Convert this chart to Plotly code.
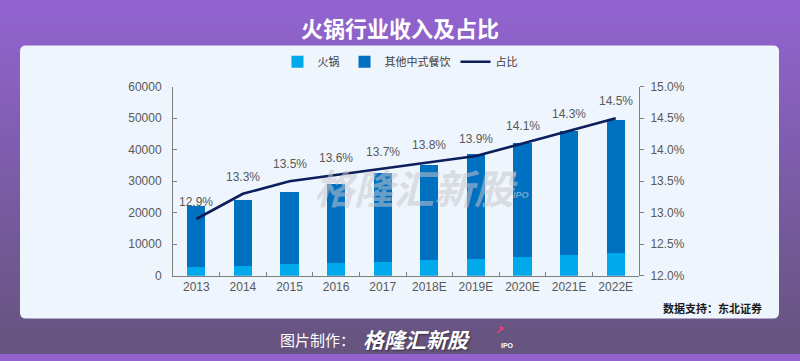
import plotly.graph_objects as go

# ---- data ----
years = ["2013", "2014", "2015", "2016", "2017", "2018E", "2019E", "2020E", "2021E", "2022E"]
hotpot = [2840, 3200, 3600, 4000, 4450, 4860, 5370, 5940, 6560, 7170]
other = [19160, 20900, 23000, 25100, 28050, 30340, 33230, 36160, 39340, 42230]
share = [12.9, 13.3, 13.5, 13.6, 13.7, 13.8, 13.9, 14.1, 14.3, 14.5]
share_labels = ["12.9%", "13.3%", "13.5%", "13.6%", "13.7%", "13.8%", "13.9%", "14.1%", "14.3%", "14.5%"]

W, H = 800, 361
def px(x):
    return x / W
def py(y):
    return 1 - y / H

FONT = "Noto Sans CJK SC, Liberation Sans, sans-serif"
TICKFONT = dict(family="Liberation Sans, Arial, sans-serif", size=12, color="#595959")

fig = go.Figure()
fig.add_trace(go.Bar(x=years, y=hotpot, name="火锅", marker_color="#00A9EC",
                     marker_line_width=0, yaxis="y"))
fig.add_trace(go.Bar(x=years, y=other, name="其他中式餐饮", marker_color="#0070C0",
                     marker_line_width=0, yaxis="y"))
fig.add_trace(go.Scatter(x=years, y=share, name="占比", mode="lines",
                         line=dict(color="#0C1E5B", width=2.6), yaxis="y2"))

shapes = []
# background gradient
top = (146, 99, 207)
bot = (101, 84, 125)
N = 60
for i in range(N):
    t = i / (N - 1)
    c = tuple(int(round(top[k] + (bot[k] - top[k]) * t)) for k in range(3))
    y0 = i * H / N
    y1 = (i + 1) * H / N + 0.5
    shapes.append(dict(type="rect", xref="paper", yref="paper", x0=0, x1=1,
                       y0=py(min(y1, H)), y1=py(y0), fillcolor="rgb(%d,%d,%d)" % c,
                       line_width=0, layer="below"))

# rounded white panel
L, R, T, B, r = 20, 779, 40, 324, 6
def P(x, y):
    return "%f,%f" % (px(x), py(y))
path = ("M " + P(L + r, T) + " L " + P(R - r, T) + " Q " + P(R, T) + " " + P(R, T + r) +
        " L " + P(R, B - r) + " Q " + P(R, B) + " " + P(R - r, B) +
        " L " + P(L + r, B) + " Q " + P(L, B) + " " + P(L, B - r) +
        " L " + P(L, T + r) + " Q " + P(L, T) + " " + P(L + r, T) + " Z")
shapes.append(dict(type="path", xref="paper", yref="paper", path=path,
                   fillcolor="#EEF5FD", line_width=0, layer="below"))

annotations = []
# title
annotations.append(dict(text="火锅行业收入及占比", x=0.5, y=py(21), xref="paper", yref="paper",
                        showarrow=False, xanchor="center", yanchor="middle",
                        font=dict(family=FONT, size=22, color="white", weight="bold")))
# watermark
annotations.append(dict(text="格隆汇新股", x=px(416), y=py(187), xref="paper", yref="paper",
                        showarrow=False, xanchor="center", yanchor="middle",
                        font=dict(family=FONT, size=40, color="rgba(200,200,205,0.55)",
                                  weight="bold", style="italic")))
annotations.append(dict(text="↗", x=px(512), y=py(176), xref="paper", yref="paper",
                        showarrow=False, xanchor="center", yanchor="middle",
                        font=dict(family="DejaVu Sans", size=11, color="rgba(200,200,205,0.6)")))
annotations.append(dict(text="IPO", x=px(521), y=py(196), xref="paper", yref="paper",
                        showarrow=False, xanchor="center", yanchor="middle",
                        font=dict(family="Liberation Sans", size=9, color="rgba(200,200,205,0.6)",
                                  weight="bold", style="italic")))
# share labels (category index used as x position)
for i, (v, lab) in enumerate(zip(share, share_labels)):
    annotations.append(dict(text=lab, x=i, y=v, xref="x", yref="y2", showarrow=False,
                            yshift=17, xanchor="center", yanchor="middle",
                            font=dict(family="Liberation Sans, Arial", size=12, color="#595959")))
# source
annotations.append(dict(text="数据支持：东北证券", x=px(764), y=py(313), xref="paper", yref="paper",
                        showarrow=False, xanchor="right", yanchor="middle",
                        font=dict(family=FONT, size=11, color="#1a1a1a", weight="bold")))
# footer
annotations.append(dict(text="图片制作：", x=px(357), y=py(346), xref="paper", yref="paper",
                        showarrow=False, xanchor="right", yanchor="middle",
                        font=dict(family=FONT, size=15, color="white")))
annotations.append(dict(text="格隆汇新股", x=px(361), y=py(345), xref="paper", yref="paper",
                        showarrow=False, xanchor="left", yanchor="middle",
                        font=dict(family=FONT, size=21, color="white", weight="bold", style="italic",
                                  shadow="1px 1px 2px rgba(0,0,0,0.5)")))
annotations.append(dict(text="↗", x=px(499), y=py(337), xref="paper", yref="paper",
                        showarrow=False, xanchor="center", yanchor="middle",
                        font=dict(family="DejaVu Sans", size=11, color="#F0407A", weight="bold")))
annotations.append(dict(text="IPO", x=px(507), y=py(352), xref="paper", yref="paper",
                        showarrow=False, xanchor="center", yanchor="middle",
                        font=dict(family="Liberation Sans", size=7, color="white", weight="bold")))

fig.update_layout(
    width=W, height=H,
    margin=dict(l=0, r=0, t=0, b=0),
    paper_bgcolor="rgb(146,99,207)",
    plot_bgcolor="rgba(0,0,0,0)",
    barmode="stack",
    bargap=0.61,
    showlegend=True,
    legend=dict(orientation="h", x=0.5, xanchor="center", y=py(57), yanchor="middle",
                traceorder="normal", bgcolor="rgba(0,0,0,0)",
                font=dict(family=FONT, size=11, color="#404040"),
                itemwidth=30),
    xaxis=dict(domain=[px(173), px(639)], range=[-0.5, 9.5], type="category",
               showline=True, linecolor="#7f7f7f", linewidth=1,
               ticks="inside", ticklen=4, tickcolor="#7f7f7f", tickson="boundaries",
               tickfont=TICKFONT, showgrid=False, zeroline=False, anchor="y"),
    yaxis=dict(domain=[py(279.5), py(83)], range=[0, 60000], dtick=10000,
               showline=True, linecolor="#7f7f7f", linewidth=1,
               ticks="inside", ticklen=4, tickcolor="#7f7f7f",
               tickfont=TICKFONT, showgrid=False, zeroline=False, anchor="x",
               tickformat="d", ticklabelstandoff=8),
    yaxis2=dict(domain=[py(279.5), py(83)], range=[12, 15], dtick=0.5, overlaying="y",
                side="right", anchor="free", position=px(639),
                showline=True, linecolor="#7f7f7f", linewidth=1,
                ticks="outside", ticklen=4, tickcolor="#7f7f7f",
                tickfont=TICKFONT, showgrid=False, zeroline=False,
                tickformat=".1f", ticksuffix="%", ticklabelstandoff=4),
    shapes=shapes,
    annotations=annotations,
)

fig.write_html("out.html", config={"displayModeBar": False},
               post_script="document.body.style.margin='0';document.body.style.overflow='hidden';")
